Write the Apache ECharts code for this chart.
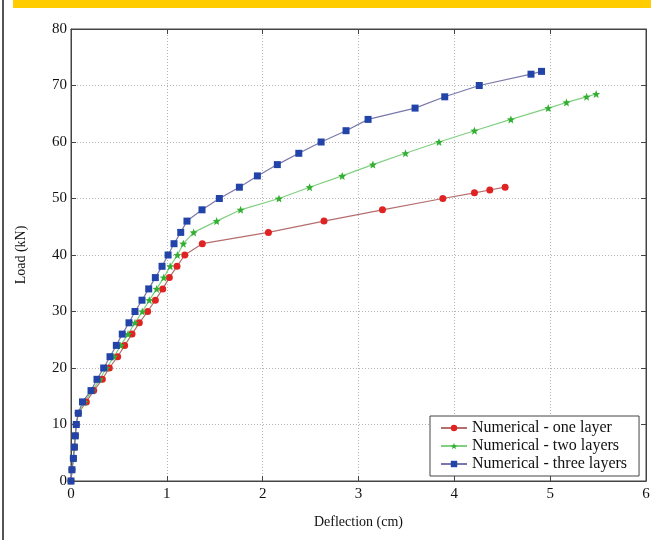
<!DOCTYPE html>
<html>
<head>
<meta charset="utf-8">
<script src="https://cdn.jsdelivr.net/npm/echarts@6/dist/echarts.min.js"></script>
<style>html,body{margin:0;padding:0;background:#fff}#c{width:656px;height:540px}</style>
</head>
<body>
<div id="c"></div>
<script>
const xTicks = [0, 1, 2, 3, 4, 5, 6];
const yTicks = [0, 10, 20, 30, 40, 50, 60, 70, 80];

const oneLayerX = [0,0.01,0.025,0.035,0.045,0.055,0.076,0.16,0.237,0.327,0.40,0.487,0.56,0.637,0.713,0.80,0.88,0.957,1.026,1.106,1.187,1.37,2.06,2.64,3.25,3.88,4.21,4.37,4.53];
const oneLayerY = [0,2,4,6,8,10,12,14,16,18,20,22,24,26,28,30,32,34,36,38,40,42,44,46,48,50,51,51.5,52];

const twoLayersX = [0,0.01,0.025,0.035,0.045,0.055,0.076,0.14,0.223,0.30,0.369,0.449,0.519,0.595,0.668,0.744,0.817,0.894,0.968,1.035,1.11,1.172,1.28,1.52,1.77,2.17,2.49,2.83,3.15,3.49,3.84,4.21,4.59,4.98,5.17,5.38,5.48];
const twoLayersY = [0,2,4,6,8,10,12,14,16,18,20,22,24,26,28,30,32,34,36,38,40,42,44,46,48,50,52,54,56,58,60,62,64,66,67,68,68.5];

const threeLayersX = [0,0.01,0.025,0.035,0.045,0.055,0.076,0.12,0.209,0.271,0.341,0.407,0.473,0.535,0.605,0.668,0.741,0.811,0.880,0.950,1.013,1.075,1.145,1.21,1.367,1.548,1.757,1.945,2.153,2.377,2.61,2.87,3.10,3.59,3.90,4.26,4.80,4.91];
const threeLayersY = [0,2,4,6,8,10,12,14,16,18,20,22,24,26,28,30,32,34,36,38,40,42,44,46,48,50,52,54,56,58,60,62,64,66,68,70,72,72.5];

const names = ['Numerical - one layer', 'Numerical - two layers', 'Numerical - three layers'];

function pairs(xs, ys) { return xs.map((x, i) => [x, ys[i]]); }

const serif = 'Liberation Serif';
const starPath = 'path://M0,-10 L2.6,-3.4 L9.5,-3.1 L4.2,1.3 L5.9,8.1 L0,4.3 L-5.9,8.1 L-4.2,1.3 L-9.5,-3.1 L-2.6,-3.4 Z';

const chart = echarts.init(document.getElementById('c'), null, {renderer: 'canvas'});
const axisLineStyle = {color: '#444', width: 1};
const gridLineStyle = {color: '#b4b4b4', type: [1, 2], width: 1};
chart.setOption({
  animation: false,
  backgroundColor: '#fff',
  graphic: [
    {type: 'rect', shape: {x: 13, y: 0, width: 638, height: 8}, style: {fill: '#FFCC00'}, silent: true},
    {type: 'rect', shape: {x: 2, y: 0, width: 2, height: 540}, style: {fill: '#555'}, silent: true}
  ],
  grid: {left: 71, right: 10, top: 29, bottom: 59, show: true, borderColor: '#444', borderWidth: 1, containLabel: false},
  legend: {
    orient: 'vertical', left: 430, top: 416,
    data: names,
    itemWidth: 26, itemHeight: 8, itemGap: 2,
    padding: [4, 12, 4, 10],
    borderColor: '#444', borderWidth: 1, borderRadius: 0, backgroundColor: '#fff',
    textStyle: {fontFamily: serif, fontSize: 16, color: '#111'}
  },
  xAxis: [{
    type: 'value', min: 0, max: 6, interval: 1,
    name: 'Deflection (cm)', nameLocation: 'middle', nameGap: 34,
    nameTextStyle: {fontFamily: serif, fontSize: 14, color: '#111'},
    axisLine: {show: true, onZero: false, lineStyle: axisLineStyle},
    axisTick: {show: true, inside: true, length: 5, lineStyle: axisLineStyle},
    axisLabel: {fontFamily: serif, fontSize: 15, color: '#111', margin: 6, formatter: v => xTicks.includes(v) ? String(v) : ''},
    splitLine: {show: true, lineStyle: gridLineStyle}
  }, {
    type: 'value', min: 0, max: 6, interval: 1, position: 'top',
    axisLine: {show: true, onZero: false, lineStyle: axisLineStyle},
    axisTick: {show: true, inside: true, length: 5, lineStyle: axisLineStyle},
    axisLabel: {show: false}, splitLine: {show: false}
  }],
  yAxis: [{
    type: 'value', min: 0, max: 80, interval: 10,
    name: 'Load (kN)', nameLocation: 'middle', nameGap: 43, nameRotate: 90,
    nameTextStyle: {fontFamily: serif, fontSize: 14, color: '#111'},
    axisLine: {show: true, onZero: false, lineStyle: axisLineStyle},
    axisTick: {show: true, inside: true, length: 5, lineStyle: axisLineStyle},
    axisLabel: {fontFamily: serif, fontSize: 15, color: '#111', margin: 4, formatter: v => yTicks.includes(v) ? String(v) : ''},
    splitLine: {show: true, lineStyle: gridLineStyle}
  }, {
    type: 'value', min: 0, max: 80, interval: 10, position: 'right',
    axisLine: {show: true, onZero: false, lineStyle: axisLineStyle},
    axisTick: {show: true, inside: true, length: 5, lineStyle: axisLineStyle},
    axisLabel: {show: false}, splitLine: {show: false}
  }],
  series: [
    {
      name: names[0], type: 'line', data: pairs(oneLayerX, oneLayerY),
      symbol: 'circle', symbolSize: 7,
      lineStyle: {color: '#b56e6e', width: 1.2},
      itemStyle: {color: '#e02222'}
    },
    {
      name: names[1], type: 'line', data: pairs(twoLayersX, twoLayersY),
      symbol: starPath, symbolSize: 8,
      lineStyle: {color: '#80d080', width: 1.2},
      itemStyle: {color: '#33b033'}
    },
    {
      name: names[2], type: 'line', data: pairs(threeLayersX, threeLayersY),
      symbol: 'rect', symbolSize: 7,
      lineStyle: {color: '#7a78aa', width: 1.2},
      itemStyle: {color: '#2244a8'}
    }
  ]
});
</script>
</body>
</html>
